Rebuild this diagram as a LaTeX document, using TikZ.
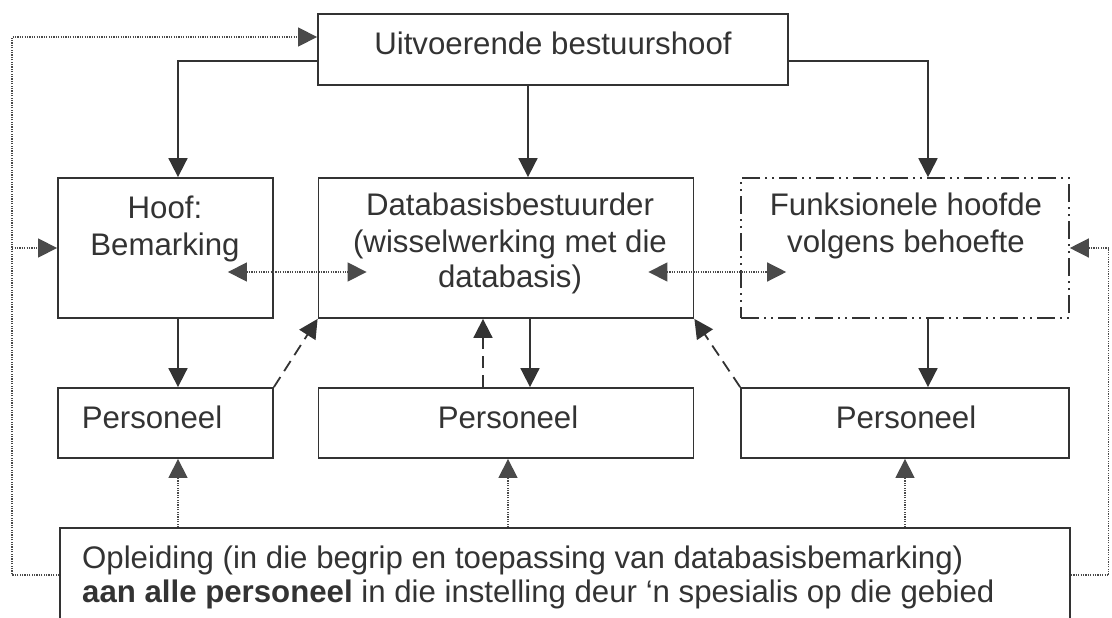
\documentclass[tikz,border=0pt]{standalone}
\usepackage{fontspec}
\setmainfont{Liberation Sans}
\usetikzlibrary{arrows.meta,calc}
\definecolor{ink}{HTML}{333333}
\definecolor{dotink}{HTML}{4a4a4a}
\begin{document}
\begin{tikzpicture}[x=1pt,y=-1pt,
  box/.style={draw=ink, line width=1.8pt, rectangle, inner sep=0pt, fill=white},
  funkbox/.style={box, line width=1.6pt, dash pattern=on 18pt off 5pt on 2pt off 5pt on 2pt off 5pt},
  txt/.style={anchor=base, inner sep=0pt, text=ink, font=\fontsize{31.2}{36}\selectfont},
  headtip/.style={-{Triangle[length=19pt,width=19pt]}},
  bothtips/.style={{Triangle[length=19pt,width=19pt]}-{Triangle[length=19pt,width=19pt]}},
  solidcon/.style={draw=ink, line width=1.8pt, headtip},
  dashcon/.style={draw=ink, line width=1.8pt, dash pattern=on 12pt off 7pt, headtip},
  dotline/.style={draw=dotink, line width=1.3pt, dash pattern=on 1.2pt off 1.2pt},
  dotcon/.style={dotline, headtip},
]
\useasboundingbox (0,0) rectangle (1112,618);

% boxes
\node[box, minimum width=470, minimum height=71] (top) at (553,49.5) {};
\node[box, minimum width=215, minimum height=140] (hoof) at (165.5,248) {};
\node[box, minimum width=375, minimum height=140] (db) at (506,248) {};
\node[funkbox, minimum width=328, minimum height=140] (funk) at (905,248) {};
\node[box, minimum width=215, minimum height=70] (p1) at (165.5,423) {};
\node[box, minimum width=375, minimum height=70] (p2) at (506,423) {};
\node[box, minimum width=328, minimum height=70] (p3) at (905,423) {};
\node[box, minimum width=1010, minimum height=112] (op) at (565,584) {};

% texts
\node[txt] (top-t) at (553,55) {Uitvoerende bestuurshoof};
\node[txt] (hoof-t1) at (165,218) {Hoof:};
\node[txt] (hoof-t2) at (165,255) {Bemarking};
\node[txt] (db-t1) at (510,215) {Databasisbestuurder};
\node[txt] (db-t2) at (510,252) {(wisselwerking met die};
\node[txt] (db-t3) at (510,287) {databasis)};
\node[txt] (funk-t1) at (906,215) {Funksionele hoofde};
\node[txt] (funk-t2) at (906,252) {volgens behoefte};
\node[txt] (p1-t) at (152,428) {Personeel};
\node[txt] (p2-t) at (508,428) {Personeel};
\node[txt] (p3-t) at (906,428) {Personeel};
\node[txt, anchor=base west] (op-t1) at (82,568) {Opleiding (in die begrip en toepassing van databasisbemarking)};
\node[txt, anchor=base west] (op-t2) at (82,602) {\textbf{aan alle personeel} in die instelling deur ‘n spesialis op die gebied};

% line of command
\draw[solidcon] ([yshift=-11.5pt]top.west) -| ($(hoof.north)+(12.5,0)$);
\draw[solidcon] ($(top.south)+(-25,0)$) -- ($(db.north)+(22,0)$);
\draw[solidcon] ([yshift=-11.5pt]top.east) -| ($(funk.north)+(23,0)$);
\draw[solidcon] ($(hoof.south)+(12.5,0)$) -- ($(p1.north)+(12.5,0)$);
\draw[solidcon] ($(db.south)+(24,0)$) -- ($(p2.north)+(24,0)$);
\draw[solidcon] ($(funk.south)+(23,0)$) -- ($(p3.north)+(23,0)$);

% staff feeding the database manager
\draw[dashcon] (p1.north east) -- (db.south west);
\draw[dashcon] ($(p2.north)+(-23,0)$) -- ($(db.south)+(-23,0)$);
\draw[dashcon] (p3.north west) -- (db.south east);

% interaction with the database
\draw[dotline, bothtips] ($(hoof.east)+(-46,24)$) -- ($(db.west)+(49,24)$);
\draw[dotline, bothtips] ($(db.east)+(-46,24)$) -- ($(funk.west)+(46,24)$);

% training reaching all staff
\coordinate (a1) at ($(p1.south)+(12.5,0)$);
\coordinate (a2) at ($(p2.south)+(2,0)$);
\coordinate (a3) at ($(p3.south)+(0,0)$);
\draw[dotcon] (a1 |- op.north) -- (a1);
\draw[dotcon] (a2 |- op.north) -- (a2);
\draw[dotcon] (a3 |- op.north) -- (a3);

% feedback loops
\draw[dotcon] ($(op.west)+(0,-9)$) -| ($(top.west)+(-305,-12.5)$) -- ($(top.west)+(0,-12.5)$);
\draw[dotcon] ($(hoof.west)+(-45,0)$) -- (hoof.west);
\draw[dotcon] ($(op.east)+(0,-9)$) -| ($(funk.east)+(39,0)$) -- (funk.east);
\end{tikzpicture}
\end{document}
